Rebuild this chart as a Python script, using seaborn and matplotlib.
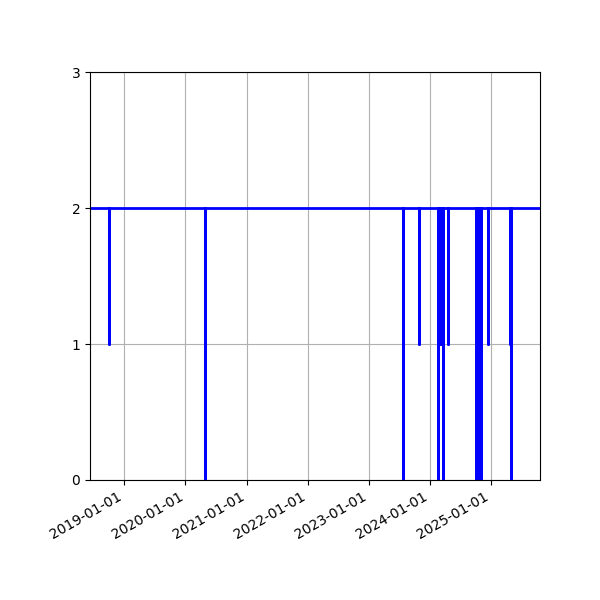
import pandas as pd
import matplotlib
matplotlib.use('Agg')
import matplotlib.pyplot as plt
import matplotlib.dates as mdates
import seaborn as sns

# range of the series and the normal level
start_date = '2018-06-10'
end_date = '2025-10-20'
base_value = 2

# days where the value dropped, and what it dropped to
dip_dates = ['2018-09-29', '2020-04-28', '2023-07-25', '2023-10-26',
             '2024-02-20', '2024-02-29', '2024-03-06', '2024-03-21',
             '2024-04-20', '2024-10-04', '2024-10-13', '2024-10-22',
             '2024-10-31', '2024-12-15', '2025-04-23', '2025-04-29']
dip_values = [1, 0, 0, 1, 0, 1, 1, 0, 1, 0, 0, 0, 0, 1, 1, 0]


def build_series():
    dates = [pd.Timestamp(start_date)]
    values = [base_value]
    for d, v in zip(dip_dates, dip_values):
        d = pd.Timestamp(d)
        dates += [d, d + pd.Timedelta(days=1)]
        values += [v, base_value]
    dates.append(pd.Timestamp(end_date))
    values.append(base_value)
    return pd.DataFrame({'date': dates, 'value': values})


def viz(df):
    fig, ax = plt.subplots(figsize=(6, 6), dpi=100)
    sns.lineplot(data=df, x='date', y='value', ax=ax, color='blue',
                 linewidth=2, drawstyle='steps-post', estimator=None)
    ax.set_xlim(df.date.min(), df.date.max())
    ax.set_ylim(0, 3)
    ax.set_yticks([0, 1, 2, 3])
    ax.xaxis.set_major_locator(mdates.YearLocator())
    ax.xaxis.set_major_formatter(mdates.DateFormatter('%Y-%m-%d'))
    ax.set_xlabel('')
    ax.set_ylabel('')
    ax.grid(True)
    fig.autofmt_xdate()
    fig.subplots_adjust(left=0.15, right=0.9, top=0.88, bottom=0.2)
    return fig


if __name__ == '__main__':
    df = build_series()
    fig = viz(df)
    fig.savefig('out.png')
